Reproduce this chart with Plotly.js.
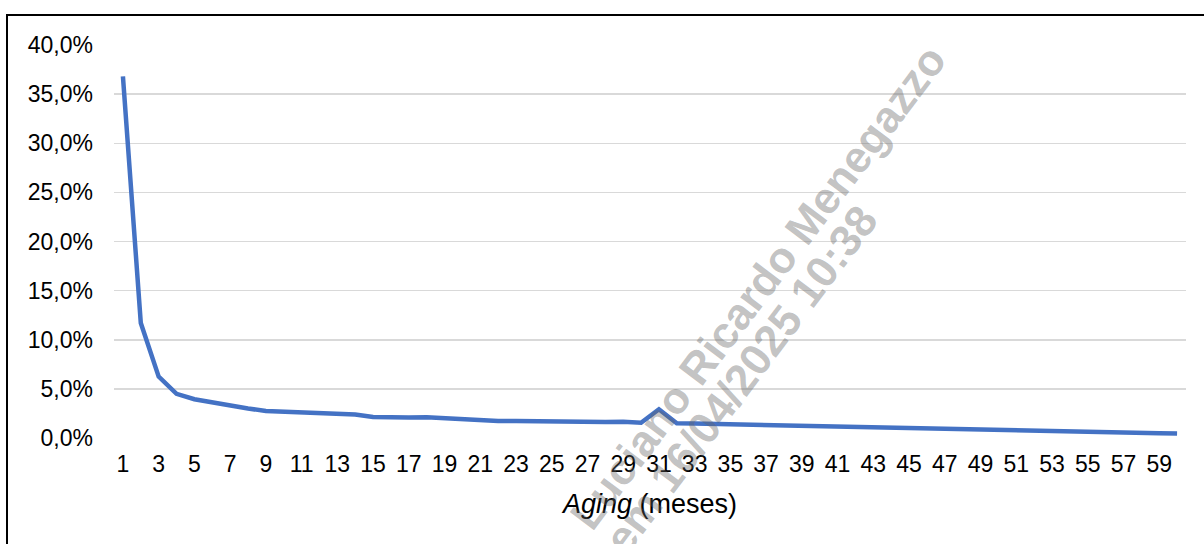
<!DOCTYPE html>
<html>
<head>
<meta charset="utf-8">
<script src="https://cdn.plot.ly/plotly-3.0.1.min.js"></script>
<style>
  html, body { margin: 0; padding: 0; background: #ffffff; }
  #wrap { position: relative; width: 1204px; height: 544px; overflow: hidden; background: #ffffff; }
  #frame { position: absolute; left: 6px; top: 14px; width: 1300px; height: 700px; border: 2px solid #000000; box-sizing: border-box; }
  #chart { position: absolute; left: 0; top: 0; width: 1204px; height: 544px; }
</style>
</head>
<body>
<div id="wrap">
  <div id="frame"></div>
  <div id="chart"></div>
</div>
<script>
// Aging (meses) and share of balance at each month
const months = [1,2,3,4,5,6,7,8,9,10,11,12,13,14,15,16,17,18,19,20,
                21,22,23,24,25,26,27,28,29,30,31,32,33,34,35,36,37,38,39,40,
                41,42,43,44,45,46,47,48,49,50,51,52,53,54,55,56,57,58,59,60];
const shares = [0.368,0.117,0.0625,0.045,0.0395,0.036,0.033,0.030,0.0275,0.0268,
                0.026,0.025,0.0242,0.024,0.0215,0.021,0.0208,0.0212,0.0202,0.0188,
                0.0172,0.0172,0.0172,0.0170,0.0165,0.0165,0.0158,0.0163,0.0166,0.0155,
                0.0292,0.0150,0.0147,0.0143,0.0140,0.0137,0.0130,0.0125,0.0120,0.0117,
                0.0115,0.0107,0.0105,0.0100,0.0095,0.0090,0.0087,0.0082,0.0078,0.0079,
                0.0075,0.0073,0.0071,0.0066,0.0063,0.0060,0.0057,0.0052,0.0049,0.0046];
const xTickVals = [1,3,5,7,9,11,13,15,17,19,21,23,25,27,29,31,33,35,37,39,41,43,45,47,49,51,53,55,57,59];
const xTickText = xTickVals.map(String);
const xTitle = '<i>Aging</i> (meses)';
const watermarkLines = ['Luciano Ricardo Menegazzo', 'em 16/04/2025 10:38'];

const FONT = '"Liberation Sans", Arial, Helvetica, sans-serif';

const trace = {
  type: 'scatter',
  mode: 'lines',
  x: months,
  y: shares,
  line: { color: '#4472C4', width: 4.5, shape: 'linear' },
  hoverinfo: 'x+y'
};

const layout = {
  width: 1204,
  height: 544,
  margin: { l: 114, r: 18, t: 45, b: 106, pad: 0 },
  paper_bgcolor: 'rgba(0,0,0,0)',
  plot_bgcolor: 'rgba(0,0,0,0)',
  separators: ',.',
  showlegend: false,
  font: { family: FONT, color: '#000000', size: 23 },
  xaxis: {
    range: [0.5, 60.5],
    tickmode: 'array',
    tickvals: xTickVals,
    ticktext: xTickText,
    showgrid: false,
    zeroline: false,
    showline: false,
    ticks: '',
    ticklabelstandoff: 10,
    tickfont: { family: FONT, size: 23, color: '#000000' },
    automargin: false,
    title: { text: xTitle, font: { family: FONT, size: 27, color: '#000000' }, standoff: 18 }
  },
  yaxis: {
    range: [0, 0.4],
    tickmode: 'linear',
    tick0: 0,
    dtick: 0.05,
    tickformat: '.1%',
    showgrid: true,
    gridcolor: '#d9d9d9',
    gridwidth: 1.5,
    zeroline: false,
    showline: false,
    ticks: '',
    ticklabelstandoff: 20,
    tickfont: { family: FONT, size: 23, color: '#000000' },
    automargin: false
  },
  annotations: [
    {
      xref: 'paper', yref: 'paper', x: 0.601, y: 0.385,
      xanchor: 'center', yanchor: 'middle',
      text: '<b>' + watermarkLines[0] + '</b>', showarrow: false, textangle: -53,
      font: { family: FONT, size: 44, weight: 'bold', color: 'rgba(100,100,100,0.40)' }
    },
    {
      xref: 'paper', yref: 'paper', x: 0.584, y: 0.150,
      xanchor: 'center', yanchor: 'middle',
      text: '<b>' + watermarkLines[1] + '</b>', showarrow: false, textangle: -53,
      font: { family: FONT, size: 44, weight: 'bold', color: 'rgba(100,100,100,0.40)' }
    }
  ]
};

Plotly.newPlot('chart', [trace], layout, { displayModeBar: false, staticPlot: true });
</script>
</body>
</html>
